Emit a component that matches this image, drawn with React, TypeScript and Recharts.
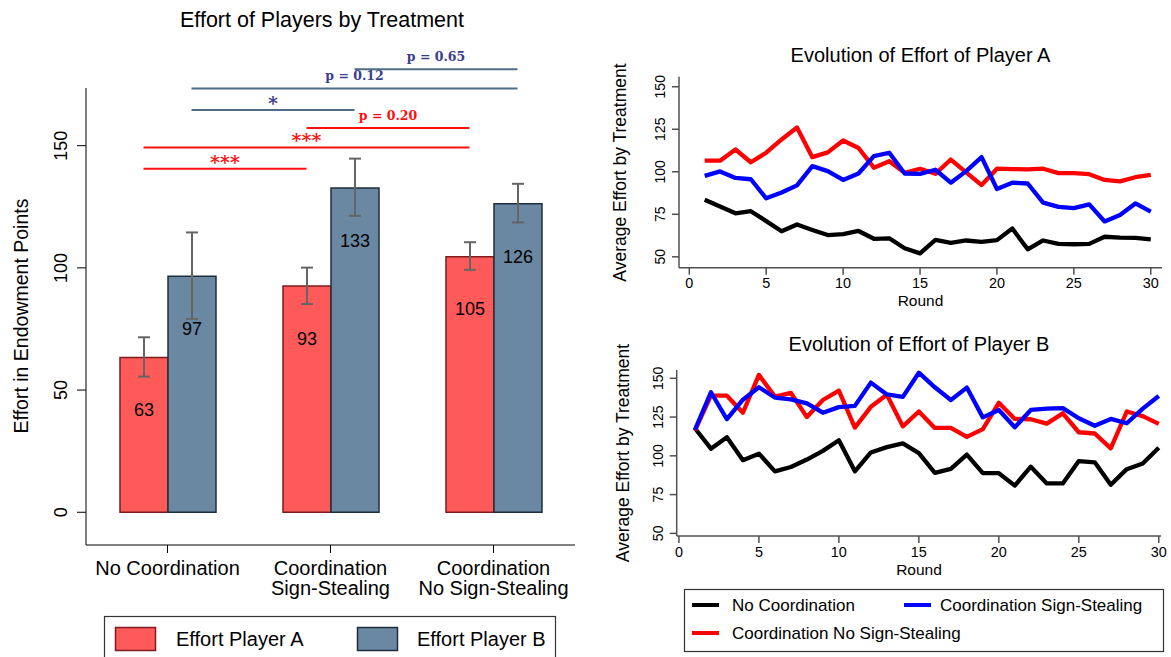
import React from 'react';
import {
  BarChart, Bar, XAxis, YAxis, ErrorBar, LabelList, ReferenceLine,
  LineChart, Line,
} from 'recharts';

// ---------- Bar chart data ----------
const treatments = ['No Coordination', 'Coordination\nSign-Stealing', 'Coordination\nNo Sign-Stealing'];
const effortA = [63.3, 92.6, 104.6];
const ciLowA = [55.5, 85.2, 99.2];
const ciHighA = [71.6, 100.1, 110.5];
const effortB = [96.6, 132.7, 126.2];
const ciLowB = [79.1, 121.3, 118.6];
const ciHighB = [114.5, 144.7, 134.4];
const barTicks = [0, 50, 100, 150];

// significance comparisons
const sigFrom = [0, 0, 1, 0, 0, 1];
const sigTo = [1, 2, 2, 1, 2, 2];
const sigPlayer = ['A', 'A', 'A', 'B', 'B', 'B'];
const sigLevel = [140.6, 149.3, 157.2, 164.6, 173.4, 181.3];
const sigLabel = ['***', '***', 'p = 0.20', '*', 'p = 0.12', 'p = 0.65'];

// ---------- Line chart data ----------
const rounds = [1, 2, 3, 4, 5, 6, 7, 8, 9, 10, 11, 12, 13, 14, 15, 16, 17, 18, 19, 20, 21, 22, 23, 24, 25, 26, 27, 28, 29, 30];
const noCoordA = [83.6, 79.6, 75.6, 76.8, 71.0, 65.0, 69.0, 65.8, 62.8, 63.3, 65.2, 60.6, 60.9, 55.0, 52.0, 60.0, 58.2, 59.6, 58.8, 59.8, 66.6, 54.4, 59.6, 57.6, 57.4, 57.6, 61.8, 61.3, 61.1, 60.3];
const signStealA = [97.6, 100.2, 96.4, 95.6, 84.4, 87.8, 92.0, 103.3, 100.4, 95.2, 99.0, 109.2, 111.2, 99.0, 98.8, 101.2, 93.6, 100.4, 108.6, 89.9, 93.6, 93.1, 81.9, 79.4, 78.6, 80.8, 70.8, 74.6, 81.4, 76.6];
const noSignStealA = [106.5, 106.5, 113.1, 105.6, 111.2, 119.0, 126.0, 108.6, 111.4, 118.4, 114.0, 102.4, 106.2, 99.4, 101.8, 98.8, 107.2, 99.6, 92.2, 101.8, 101.6, 101.4, 101.8, 99.2, 99.2, 98.6, 95.2, 94.4, 96.8, 98.2];
const noCoordB = [117.8, 104.6, 112.0, 97.2, 101.4, 90.0, 92.8, 97.6, 103.2, 110.0, 90.0, 102.2, 105.6, 108.0, 101.8, 89.0, 91.6, 100.8, 88.8, 88.8, 80.8, 93.0, 82.2, 82.2, 96.6, 95.8, 81.4, 91.4, 95.0, 105.2];
const signStealB = [116.8, 141.0, 123.6, 136.2, 144.2, 137.6, 136.4, 133.8, 127.8, 131.4, 132.2, 147.2, 139.6, 138.0, 153.6, 144.2, 136.0, 144.0, 124.8, 129.6, 118.4, 129.6, 130.4, 130.8, 124.2, 119.4, 123.8, 121.0, 130.4, 138.6];
const noSignStealB = [116.2, 138.8, 138.8, 127.8, 152.2, 138.2, 140.6, 125.0, 136.0, 142.0, 118.2, 131.6, 139.4, 119.0, 128.6, 118.0, 118.0, 112.2, 117.2, 134.2, 123.8, 123.6, 120.8, 127.4, 115.2, 114.4, 104.8, 128.6, 125.6, 120.6];
const roundTicks = [0, 5, 10, 15, 20, 25, 30];
const effortTicks = [50, 75, 100, 125, 150];

// ---------- styling ----------
const FONT = '"Liberation Sans", Arial, Helvetica, sans-serif';
const SERIF = '"DejaVu Serif", serif';
const RED_FILL = '#ff5a5a';
const RED_EDGE = '#7d1d1d';
const BLUE_FILL = '#6a88a2';
const BLUE_EDGE = '#1f2e3d';
const SIG_RED = '#ff1010';
const SIG_BLUE_LINE = '#4f6c86';
const SIG_BLUE_TEXT = '#3b3d8e';
const AXIS_GRAY = '#505050';

const BAR_W = 48;
const PLOT_W = 489;

const barRows = treatments.map((name, i) => ({
  name,
  a: effortA[i],
  b: effortB[i],
  errA: [effortA[i] - ciLowA[i], ciHighA[i] - effortA[i]],
  errB: [effortB[i] - ciLowB[i], ciHighB[i] - effortB[i]],
}));

const rowsA = rounds.map((r, i) => ({ round: r, nc: noCoordA[i], ss: signStealA[i], nss: noSignStealA[i] }));
const rowsB = rounds.map((r, i) => ({ round: r, nc: noCoordB[i], ss: signStealB[i], nss: noSignStealB[i] }));

const VTick = (props: any) => {
  const { x, y, payload, size } = props;
  return (
    <text x={x} y={y} transform={`rotate(-90 ${x} ${y})`} textAnchor="middle"
      fontSize={size} fontFamily={FONT} fill="#000">
      {payload.value}
    </text>
  );
};

const CatTick = (props: any) => {
  const { x, y, payload } = props;
  const lines = String(payload.value).split('\n');
  return (
    <text x={x} y={y} textAnchor="middle" fontSize={20} fontFamily={FONT} fill="#000">
      {lines.map((l, i) => (
        <tspan key={i} x={x} dy={i === 0 ? 19.5 : 20.6}>{l}</tspan>
      ))}
    </text>
  );
};

// significance bracket: line between the bar centres (shifted from category centres) with its label
const SigShape = (props: any) => {
  const { x1, y1, x2, y2, shift, text, lineColor, textColor } = props;
  const stars = text.indexOf('p') < 0;
  const xa = x1 + shift;
  const xb = x2 + shift;
  return (
    <g>
      <line x1={xa} y1={y1} x2={xb} y2={y2} stroke={lineColor} strokeWidth={2} />
      <text x={(xa + xb) / 2} y={y1 - (stars ? 0 : 8.5)} textAnchor="middle"
        fontSize={stars ? 19 : 12.5} fontFamily={SERIF} fontWeight="bold" fill={textColor}>
        {text}
      </text>
    </g>
  );
};

const EvolutionChart = (props: any) => {
  const { rows, width, height, margin, xDomain, yDomain, tickMargin } = props;
  return (
    <LineChart width={width} height={height} data={rows} margin={margin}>
      <XAxis type="number" dataKey="round" domain={xDomain} ticks={roundTicks} allowDataOverflow
        height={30} tickSize={7} tickMargin={tickMargin}
        axisLine={{ stroke: AXIS_GRAY, strokeWidth: 1.5 }} tickLine={{ stroke: AXIS_GRAY, strokeWidth: 1.5 }}
        tick={{ fill: '#000', fontSize: 14.4, fontFamily: FONT }} />
      <YAxis type="number" domain={yDomain} ticks={effortTicks} allowDataOverflow
        width={40} tickSize={7} tickMargin={7}
        axisLine={{ stroke: AXIS_GRAY, strokeWidth: 1.5 }} tickLine={{ stroke: AXIS_GRAY, strokeWidth: 1.5 }}
        tick={(p: any) => <VTick {...p} size={14} />} />
      <Line dataKey="nc" stroke="#000000" strokeWidth={4.3} dot={false} isAnimationActive={false} strokeLinejoin="round" />
      <Line dataKey="nss" stroke="#ff0000" strokeWidth={4.3} dot={false} isAnimationActive={false} strokeLinejoin="round" />
      <Line dataKey="ss" stroke="#0000ff" strokeWidth={4.3} dot={false} isAnimationActive={false} strokeLinejoin="round" />
    </LineChart>
  );
};

export default function App() {
  return (
    <div style={{ position: 'absolute', left: 0, top: 0, width: 1171, height: 657, overflow: 'hidden', background: '#fff', fontFamily: FONT }}>
      {/* Left: bar chart */}
      <div style={{ position: 'absolute', left: 0, top: 0 }}>
        <BarChart width={600} height={657} data={barRows} barSize={BAR_W} barGap={0}
          margin={{ top: 88, right: 600 - 86 - PLOT_W, bottom: 62, left: 26 }}>
          <XAxis xAxisId="cat" dataKey="name" height={50} tickSize={8} tickMargin={2}
            axisLine={{ stroke: '#000' }} tickLine={{ stroke: '#000' }} tick={(p: any) => <CatTick {...p} />} interval={0} />
          <YAxis type="number" domain={[-13.4, 173.6]} ticks={barTicks} allowDataOverflow width={60}
            tickSize={9} tickMargin={10} axisLine={{ stroke: '#000' }} tickLine={{ stroke: '#000' }}
            tick={(p: any) => <VTick {...p} size={18} />} />
          <Bar xAxisId="cat" dataKey="a" fill={RED_FILL} stroke={RED_EDGE} strokeWidth={1.5} isAnimationActive={false}>
            <ErrorBar dataKey="errA" width={6} strokeWidth={2} stroke="#656565" direction="y" />
            <LabelList dataKey="a" position="insideTop" offset={46} fill="#000" fontSize={18} fontFamily={FONT}
              formatter={(v: any) => Math.round(Number(v))} />
          </Bar>
          <Bar xAxisId="cat" dataKey="b" fill={BLUE_FILL} stroke={BLUE_EDGE} strokeWidth={1.5} isAnimationActive={false}>
            <ErrorBar dataKey="errB" width={6} strokeWidth={2} stroke="#656565" direction="y" />
            <LabelList dataKey="b" position="insideTop" offset={46} fill="#000" fontSize={18} fontFamily={FONT}
              formatter={(v: any) => Math.round(Number(v))} />
          </Bar>
          {sigLevel.map((lvl, i) => {
            const isA = sigPlayer[i] === 'A';
            return (
              <ReferenceLine key={i} xAxisId="cat" ifOverflow="visible"
                segment={[{ x: treatments[sigFrom[i]], y: lvl }, { x: treatments[sigTo[i]], y: lvl }]}
                shape={(p: any) => (
                  <SigShape {...p} shift={isA ? -BAR_W / 2 : BAR_W / 2} text={sigLabel[i]}
                    lineColor={isA ? SIG_RED : SIG_BLUE_LINE} textColor={isA ? SIG_RED : SIG_BLUE_TEXT} />
                )} />
            );
          })}
        </BarChart>
      </div>

      {/* Right top */}
      <div style={{ position: 'absolute', left: 600, top: 0 }}>
        <EvolutionChart rows={rowsA} width={571} height={320}
          margin={{ top: 76.7, right: 9, bottom: 22.3, left: 39 }}
          xDomain={[-0.67, 30.73]} yDomain={[43.6, 155.9]} tickMargin={3} />
      </div>

      {/* Right bottom */}
      <div style={{ position: 'absolute', left: 600, top: 320 }}>
        <EvolutionChart rows={rowsB} width={571} height={260}
          margin={{ top: 50, right: 10, bottom: 14, left: 36.7 }}
          xDomain={[-0.14, 30.14]} yDomain={[48.3, 155.35]} tickMargin={4} />
      </div>

      {/* Titles, axis titles and legends */}
      <svg width={1171} height={657} style={{ position: 'absolute', left: 0, top: 0, pointerEvents: 'none' }}>
        <g fontFamily={FONT} fill="#000">
          <text x={322} y={27} textAnchor="middle" fontSize={21.5}>Effort of Players by Treatment</text>
          <text x={28} y={316} transform="rotate(-90 28 316)" textAnchor="middle" fontSize={19.5}>Effort in Endowment Points</text>

          <text x={920.5} y={62} textAnchor="middle" fontSize={20}>Evolution of Effort of Player A</text>
          <text x={626} y={172.5} transform="rotate(-90 626 172.5)" textAnchor="middle" fontSize={17.5}>Average Effort by Treatment</text>
          <text x={920.5} y={305.5} textAnchor="middle" fontSize={15.5}>Round</text>

          <text x={919} y={350.7} textAnchor="middle" fontSize={20}>Evolution of Effort of Player B</text>
          <text x={629} y={453} transform="rotate(-90 629 453)" textAnchor="middle" fontSize={17.5}>Average Effort by Treatment</text>
          <text x={919} y={574.5} textAnchor="middle" fontSize={15.5}>Round</text>
        </g>

        {/* left legend */}
        <rect x={104.5} y={616.5} width={451} height={60} fill="#fff" stroke="#333" strokeWidth={1.2} />
        <rect x={115.5} y={627.5} width={40} height={23} fill={RED_FILL} stroke={RED_EDGE} strokeWidth={1.5} />
        <text x={176} y={645.5} fontSize={20} fontFamily={FONT}>Effort Player A</text>
        <rect x={357.5} y={627.5} width={40} height={23} fill={BLUE_FILL} stroke={BLUE_EDGE} strokeWidth={1.5} />
        <text x={417} y={645.5} fontSize={20} fontFamily={FONT}>Effort Player B</text>

        {/* right legend */}
        <rect x={684.5} y={589.5} width={479} height={62} fill="#fff" stroke="#333" strokeWidth={1.2} />
        <line x1={692} y1={605} x2={719} y2={605} stroke="#000" strokeWidth={4} />
        <text x={732} y={611} fontSize={17} fontFamily={FONT}>No Coordination</text>
        <line x1={904} y1={605} x2={931} y2={605} stroke="#0000ff" strokeWidth={4} />
        <text x={940} y={611} fontSize={17} fontFamily={FONT}>Coordination Sign-Stealing</text>
        <line x1={692} y1={633} x2={719} y2={633} stroke="#ff0000" strokeWidth={4} />
        <text x={732} y={639} fontSize={17} fontFamily={FONT}>Coordination No Sign-Stealing</text>
      </svg>
    </div>
  );
}
